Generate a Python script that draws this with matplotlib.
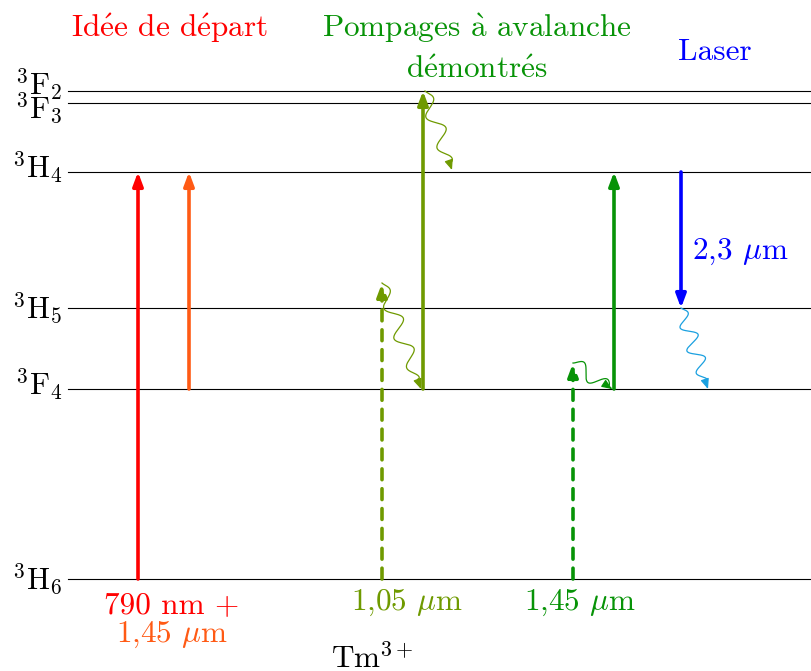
import numpy as np
import matplotlib.pyplot as plt

plt.rcParams['mathtext.fontset'] = 'cm'
plt.rcParams['font.family'] = ['cmr10', 'DejaVu Serif']

E = r'$\mathrm{\acute{e}}$'
A = r'$\mathrm{\grave{a}}$'
MU = r'$\mu$'

# energy levels (arbitrary units, ground = 0)
level_names = ['$^3\\mathrm{H}_6$', '$^3\\mathrm{F}_4$', '$^3\\mathrm{H}_5$',
               '$^3\\mathrm{H}_4$', '$^3\\mathrm{F}_3$', '$^3\\mathrm{F}_2$']
level_energy = [0, 190, 271, 407, 476, 488]
label_offset = [0, 4, 0, 4, -5, 6]

# pump / laser transitions: x, start level, end level, color, dashed
arrows_x = [138, 189, 382, 423, 573, 614, 681]
arrows_from = [0, 190, 0, 190, 0, 190, 407]
arrows_to = [407, 407, 296, 488, 216, 407, 271]
arrows_col = ['#ff0000', '#ff5a14', '#6f9a00', '#6f9a00', '#079307', '#079307', '#0000ff']
arrows_dash = [False, False, True, False, True, False, False]

# non-radiative relaxations: start (x,E), end (x,E), n waves, color
waves_start = [(382, 296), (425, 488), (573, 216), (681, 271)]
waves_end = [(421, 190), (452, 409), (612, 190), (708, 190)]
waves_n = [3.5, 2.5, 1.5, 3.5]
waves_col = ['#6f9a00', '#6f9a00', '#079307', '#1aa0e0']

fig = plt.figure(figsize=(8.12, 6.71), dpi=100)
ax = fig.add_axes([0, 0, 1, 1])
ax.set_xlim(0, 812)
ax.set_ylim(-92, 579)
ax.axis('off')

for name, e, off in zip(level_names, level_energy, label_offset):
    ax.plot([68, 812], [e, e], color='black', lw=0.8)
    ax.text(62, e + off, name, fontsize=22, ha='right', va='center')

for x, a, b, c, d in zip(arrows_x, arrows_from, arrows_to, arrows_col, arrows_dash):
    ax.annotate('', xy=(x, b), xytext=(x, a),
                arrowprops=dict(arrowstyle='-|>,head_length=0.8,head_width=0.3',
                                color=c, lw=2.6, shrinkA=0, shrinkB=0,
                                linestyle=(0, (3, 2.5)) if d else '-'))

for (x0, y0), (x1, y1), n, c in zip(waves_start, waves_end, waves_n, waves_col):
    t = np.linspace(0, 1, 300)
    dx, dy = x1 - x0, y1 - y0
    L = np.hypot(dx, dy)
    nx, ny = -dy / L, dx / L
    amp = 8 * np.sin(np.pi * np.clip(t * 1.1, 0, 1)) ** 0.3
    xs = x0 + t * dx + amp * np.sin(2 * np.pi * n * t) * nx
    ys = y0 + t * dy + amp * np.sin(2 * np.pi * n * t) * ny
    ax.plot(xs[:-8], ys[:-8], color=c, lw=0.9)
    ax.annotate('', xy=(xs[-1], ys[-1]), xytext=(xs[-12], ys[-12]),
                arrowprops=dict(arrowstyle='-|>,head_length=0.6,head_width=0.25',
                                color=c, lw=0.9, shrinkA=0, shrinkB=0))

fs = 22.5
ax.text(170, 551, 'Id' + E + 'e de d' + E + 'part', color='#ff0000', fontsize=fs, ha='center', va='center')
ax.text(477, 551, 'Pompages ' + A + ' avalanche', color='#079307', fontsize=fs, ha='center', va='center')
ax.text(477, 509, 'd' + E + 'montr' + E + 's', color='#079307', fontsize=fs, ha='center', va='center')
ax.text(715, 527, 'Laser', color='#0000ff', fontsize=fs, ha='center', va='center')
ax.text(740, 327, '2,3 ' + MU + 'm', color='#0000ff', fontsize=fs, ha='center', va='center')
ax.text(172, -26, '790 nm +', color='#ff0000', fontsize=fs, ha='center', va='center')
ax.text(172, -56, '1,45 ' + MU + 'm', color='#ff5a14', fontsize=fs, ha='center', va='center')
ax.text(407, -24, '1,05 ' + MU + 'm', color='#6f9a00', fontsize=fs, ha='center', va='center')
ax.text(580, -24, '1,45 ' + MU + 'm', color='#079307', fontsize=fs, ha='center', va='center')
ax.text(372, -80, 'Tm$^{3+}$', color='black', fontsize=fs, ha='center', va='center')

fig.savefig('out.png', dpi=100)
